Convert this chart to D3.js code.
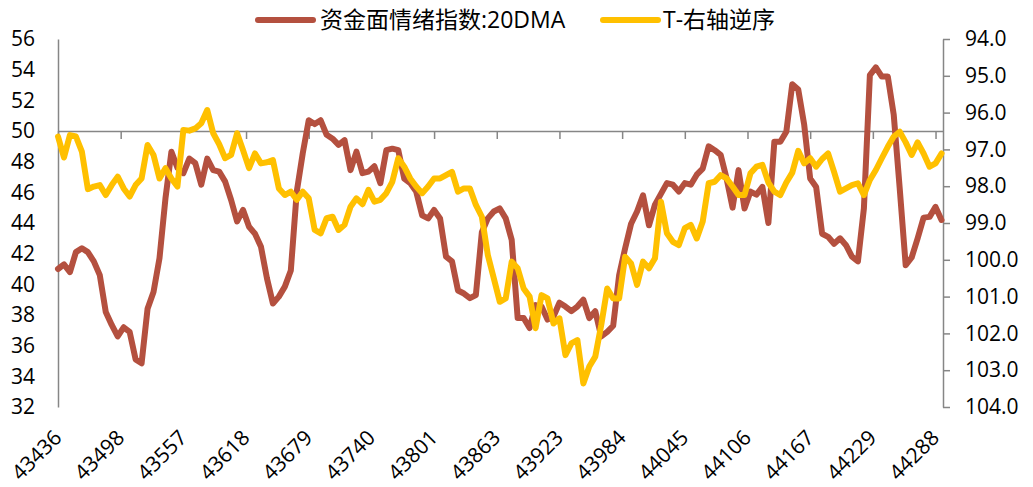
<!DOCTYPE html>
<html>
<head>
<meta charset="utf-8">
<script src="https://cdn.jsdelivr.net/npm/d3@7"></script>
<style>
  html, body { margin: 0; padding: 0; background: #fff; }
  svg { display: block; }
  text { font-family: "Open Sans", "Noto Sans CJK SC", sans-serif; fill: #000; }
</style>
</head>
<body>
<svg id="chart" width="1033" height="487"></svg>
<script>
// ---- data ----
const seriesNames = ["资金面情绪指数:20DMA", "T-右轴逆序"];
const xTickLabels = ["43436","43498","43557","43618","43679","43740","43801","43863","43923","43984","44045","44106","44167","44229","44288"];
const tickEvery = 42;      // trading days between x labels
const sampleStep = 4;      // trading days between samples
const totalDays = 593;     // last category index
const leftTicks = [32,34,36,38,40,42,44,46,48,50,52,54,56];
const rightTicks = [94,95,96,97,98,99,100,101,102,103,104];

const sentiment = [
41.0,41.3,40.8,42.1,42.35,42.1,41.5,40.6,38.2,37.35,
36.6,37.2,36.9,35.1,34.85,38.4,39.5,41.7,45.6,48.65,
47.6,47.25,48.2,47.9,46.5,48.2,47.45,47.35,46.7,45.5,
44.1,44.85,43.75,43.3,42.45,40.4,38.75,39.2,39.85,40.9,
46.05,48.55,50.7,50.45,50.7,49.75,49.5,49.1,49.4,47.45,
48.65,47.25,47.35,47.7,46.6,48.75,48.85,48.75,46.9,46.6,
46.05,44.5,44.3,44.85,44.3,41.8,41.5,39.6,39.4,39.1,
39.3,43.4,44.3,44.75,44.95,44.3,42.9,37.8,37.8,37.15,
38.65,38.55,37.7,37.9,38.8,38.55,38.25,38.55,39.0,37.8,
38.25,36.6,36.9,37.3,40.6,42.35,43.95,44.75,45.8,43.85,
45.2,45.9,46.6,46.5,46.05,46.6,46.5,47.15,47.55,49.0,
48.75,48.45,46.9,45.0,47.45,44.95,46.05,45.85,46.35,44.0,
49.3,49.3,49.95,53.05,52.7,50.4,46.9,46.35,43.3,43.1,
42.65,43.0,42.55,41.8,41.5,44.95,53.65,54.15,53.55,53.55,
51.05,46.25,41.25,41.75,43.0,44.35,44.4,45.05,44.2
];
const treasury = [
96.65,97.22,96.61,96.65,97.06,98.08,98.01,97.97,98.24,97.97,
97.74,98.06,98.28,97.97,97.79,96.88,97.15,97.79,97.51,97.79,
98.01,96.47,96.49,96.43,96.29,95.93,96.56,96.86,97.24,97.15,
96.56,97.02,97.51,97.11,97.38,97.35,97.29,98.06,98.24,98.15,
98.37,98.15,98.33,99.19,99.28,98.87,98.83,99.19,99.05,98.56,
98.33,98.49,98.10,98.42,98.37,98.19,97.88,97.24,97.47,97.79,
98.01,98.19,98.01,97.79,97.79,97.70,97.61,98.15,98.06,98.06,
98.51,98.83,99.87,100.50,101.14,101.05,100.05,100.23,100.78,101.0,
101.86,100.96,101.05,101.73,101.59,102.59,102.27,102.18,103.36,102.90,
102.63,101.77,100.78,101.05,101.05,99.92,100.10,100.68,100.05,100.23,
99.96,98.42,99.28,99.51,99.60,99.14,99.05,99.42,98.96,97.92,
97.88,97.70,97.79,98.01,98.24,98.24,97.65,97.47,97.42,97.90,
98.15,98.24,97.90,97.63,97.04,97.38,97.24,97.47,97.26,97.11,
97.61,98.15,98.06,97.97,97.92,98.24,97.83,97.56,97.24,96.93,
96.65,96.52,96.81,97.15,96.81,97.11,97.47,97.38,97.11
];

// ---- layout ----
const svg = d3.select("#chart");
const L = 58, R = 943, T = 39, B = 407;
const axisColor = "#868686";
const brown = "#B4503F", gold = "#FFC000";

const x = d3.scaleLinear().domain([0, totalDays]).range([L, R]);
const yL = d3.scaleLinear().domain([32, 56]).range([B, T]);
const yR = d3.scaleLinear().domain([94, 104]).range([T, B]);

// left axis
const gl = svg.append("g").attr("transform", `translate(${L},0)`)
  .call(d3.axisLeft(yL).tickValues(leftTicks).tickSize(0).tickPadding(23).tickSizeOuter(0));
// right axis
const gr = svg.append("g").attr("transform", `translate(${R},0)`)
  .call(d3.axisRight(yR).tickValues(rightTicks).tickSize(7).tickPadding(15).tickSizeOuter(0).tickFormat(d3.format(".1f")));
// category axis crossing at 50
const tickIdx = xTickLabels.map((d, i) => i * tickEvery);
const gx = svg.append("g").attr("transform", `translate(0,${yL(50)})`)
  .call(d3.axisBottom(x).tickValues(tickIdx).tickSize(8).tickSizeOuter(0).tickFormat(""));

[gl, gr, gx].forEach(g => {
  g.selectAll("path.domain").attr("stroke", axisColor).attr("stroke-width", 1.5);
  g.selectAll(".tick line").attr("stroke", axisColor).attr("stroke-width", 1.5);
  g.selectAll(".tick text").attr("font-size", 21).attr("fill", "#000")
    .style("font-family", '"Open Sans", sans-serif');
});

// rotated x labels at bottom
svg.append("g").selectAll("text").data(xTickLabels).join("text")
  .attr("transform", (d, i) => `translate(${x(tickIdx[i]) + 5},439) rotate(-45)`)
  .attr("text-anchor", "end")
  .attr("font-size", 21)
  .text(d => d);

// lines
const lineL = d3.line().x((d, i) => x(i * sampleStep)).y(d => yL(d));
const lineR = d3.line().x((d, i) => x(i * sampleStep)).y(d => yR(d));
svg.append("path").datum(sentiment).attr("d", lineL)
  .attr("fill", "none").attr("stroke", brown).attr("stroke-width", 6)
  .attr("stroke-linejoin", "round").attr("stroke-linecap", "round");
svg.append("path").datum(treasury).attr("d", lineR)
  .attr("fill", "none").attr("stroke", gold).attr("stroke-width", 6)
  .attr("stroke-linejoin", "round").attr("stroke-linecap", "round");

// legend
const legend = [
  { name: seriesNames[0], color: brown, x1: 258, x2: 313, tx: 320 },
  { name: seriesNames[1], color: gold, x1: 603, x2: 658, tx: 663 }
];
const lg = svg.append("g");
legend.forEach(d => {
  lg.append("line").attr("x1", d.x1).attr("x2", d.x2).attr("y1", 20).attr("y2", 20)
    .attr("stroke", d.color).attr("stroke-width", 6).attr("stroke-linecap", "round");
  lg.append("text").attr("x", d.tx).attr("y", 20).attr("dy", "0.36em")
    .attr("font-size", 23).text(d.name);
});
</script>
</body>
</html>
